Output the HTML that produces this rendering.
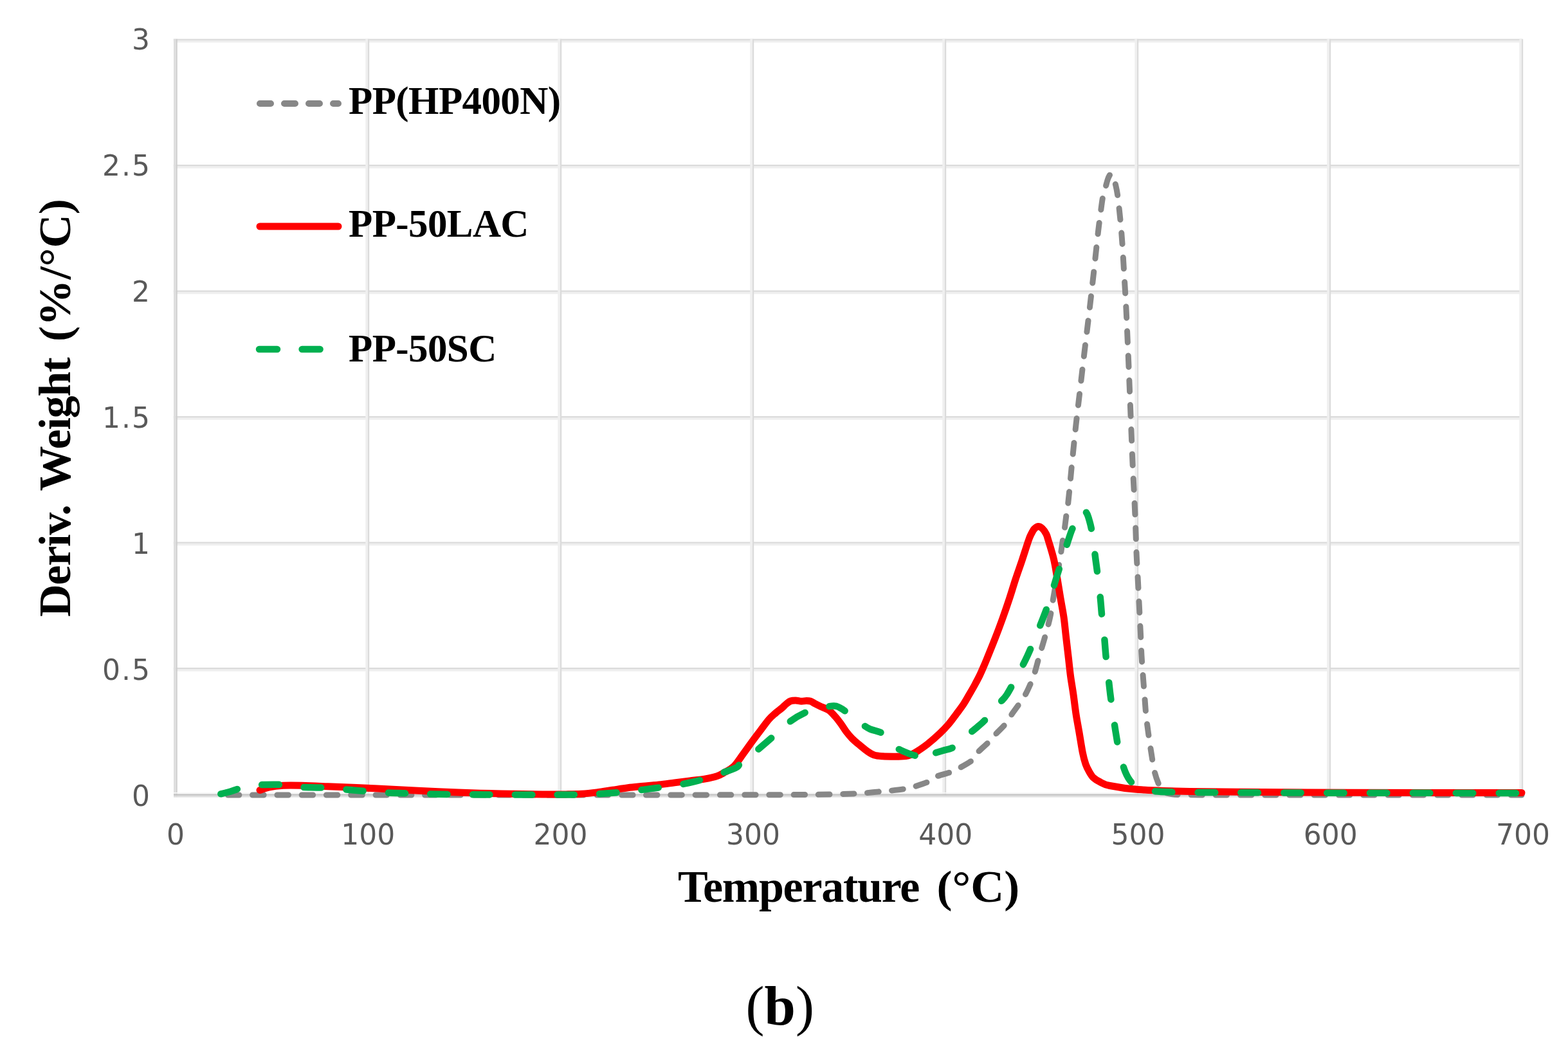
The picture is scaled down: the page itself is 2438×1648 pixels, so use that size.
<!DOCTYPE html>
<html><head><meta charset="utf-8"><title>Deriv. Weight vs Temperature</title>
<style>
html,body{margin:0;padding:0;background:#fff;}
body{width:2438px;height:1648px;overflow:hidden;}
svg{display:block;}
.tick{font-family:"DejaVu Sans","Liberation Sans",sans-serif;font-size:44px;fill:#595959;}
.ttl{font-family:"Liberation Serif",serif;font-weight:bold;fill:#000;}
</style></head><body>
<svg width="2438" height="1648" viewBox="0 0 2438 1648">
<rect width="2438" height="1648" fill="#fff"/>

<g id="grid">
<rect x="269.8" y="1039.7" width="2097.0" height="4" fill="#efefef"/>
<rect x="269.8" y="1038.0" width="2097.0" height="2.2" fill="#dbdbdb"/>
<rect x="269.8" y="844.2" width="2097.0" height="4" fill="#efefef"/>
<rect x="269.8" y="842.5" width="2097.0" height="2.2" fill="#dbdbdb"/>
<rect x="269.8" y="648.7" width="2097.0" height="4" fill="#efefef"/>
<rect x="269.8" y="647.0" width="2097.0" height="2.2" fill="#dbdbdb"/>
<rect x="269.8" y="453.2" width="2097.0" height="4" fill="#efefef"/>
<rect x="269.8" y="451.5" width="2097.0" height="2.2" fill="#dbdbdb"/>
<rect x="269.8" y="257.7" width="2097.0" height="4" fill="#efefef"/>
<rect x="269.8" y="256.0" width="2097.0" height="2.2" fill="#dbdbdb"/>
<rect x="269.8" y="62.2" width="2097.0" height="4" fill="#efefef"/>
<rect x="269.8" y="60.5" width="2097.0" height="2.2" fill="#dbdbdb"/>
<rect x="568.3" y="60.7" width="4" height="1176.0" fill="#efefef"/>
<rect x="572.0" y="60.7" width="2.2" height="1176.0" fill="#dbdbdb"/>
<rect x="867.3" y="60.7" width="4" height="1176.0" fill="#efefef"/>
<rect x="871.0" y="60.7" width="2.2" height="1176.0" fill="#dbdbdb"/>
<rect x="1166.3" y="60.7" width="4" height="1176.0" fill="#efefef"/>
<rect x="1170.0" y="60.7" width="2.2" height="1176.0" fill="#dbdbdb"/>
<rect x="1465.3" y="60.7" width="4" height="1176.0" fill="#efefef"/>
<rect x="1469.0" y="60.7" width="2.2" height="1176.0" fill="#dbdbdb"/>
<rect x="1764.3" y="60.7" width="4" height="1176.0" fill="#efefef"/>
<rect x="1768.0" y="60.7" width="2.2" height="1176.0" fill="#dbdbdb"/>
<rect x="2063.3" y="60.7" width="4" height="1176.0" fill="#efefef"/>
<rect x="2067.0" y="60.7" width="2.2" height="1176.0" fill="#dbdbdb"/>
<rect x="2362.3" y="60.7" width="4" height="1176.0" fill="#efefef"/>
<rect x="2366.0" y="60.7" width="2.2" height="1176.0" fill="#dbdbdb"/>
<rect x="270" y="60.7" width="3.7" height="1179.0" fill="#dedede"/>
<rect x="273.7" y="60.7" width="2" height="1179.0" fill="#cdcdcd"/>
<rect x="270" y="1232" width="2098.8" height="1.6" fill="#f7f7f7"/>
<rect x="270" y="1234.3" width="2098.8" height="1.8" fill="#c4c4c4"/>
<rect x="270" y="1236.1" width="2098.8" height="2" fill="#d2d2d2"/>
<rect x="270" y="1238.1" width="2098.8" height="1.8" fill="#e7e7e7"/>
</g>
<g class="tick">
<text x="233" y="1253.1" text-anchor="end">0</text>
<text x="235" y="1057.1" text-anchor="end" letter-spacing="2">0.5</text>
<text x="233" y="861.1" text-anchor="end">1</text>
<text x="235" y="665.1" text-anchor="end" letter-spacing="2">1.5</text>
<text x="233" y="469.1" text-anchor="end">2</text>
<text x="235" y="273.1" text-anchor="end" letter-spacing="2">2.5</text>
<text x="233" y="77.1" text-anchor="end">3</text>
<text x="273.0" y="1312.5" text-anchor="middle">0</text>
<text x="572.3" y="1312.5" text-anchor="middle">100</text>
<text x="871.6" y="1312.5" text-anchor="middle">200</text>
<text x="1170.9" y="1312.5" text-anchor="middle">300</text>
<text x="1470.2" y="1312.5" text-anchor="middle">400</text>
<text x="1769.5" y="1312.5" text-anchor="middle">500</text>
<text x="2068.8" y="1312.5" text-anchor="middle">600</text>
<text x="2368.1" y="1312.5" text-anchor="middle">700</text>
</g>
<path id="pg" d="M340.0,1236.0 C400.0,1236.0 590.0,1236.0 700.0,1236.0 C810.0,1236.0 908.3,1236.1 1000.0,1236.0 C1091.7,1235.9 1199.0,1235.8 1250.0,1235.5 C1301.0,1235.2 1292.3,1234.8 1306.0,1234.5 C1319.7,1234.2 1325.7,1234.0 1332.0,1233.8 C1338.3,1233.5 1337.7,1233.5 1344.0,1233.0 C1350.3,1232.5 1363.5,1231.1 1370.0,1230.5 C1376.5,1229.9 1376.8,1230.2 1383.0,1229.5 C1389.2,1228.8 1400.8,1227.5 1407.0,1226.5 C1413.2,1225.5 1414.0,1225.3 1420.0,1223.5 C1426.0,1221.7 1437.3,1218.1 1443.0,1215.5 C1448.7,1212.9 1448.2,1210.5 1454.0,1208.0 C1459.8,1205.5 1472.0,1202.7 1478.0,1200.5 C1484.0,1198.3 1484.5,1198.0 1490.0,1195.0 C1495.5,1192.0 1506.0,1186.7 1511.0,1182.5 C1516.0,1178.3 1515.7,1174.8 1520.0,1170.0 C1524.3,1165.2 1532.2,1158.9 1537.0,1154.0 C1541.8,1149.1 1544.7,1145.2 1549.0,1140.5 C1553.3,1135.8 1558.9,1131.1 1563.0,1126.0 C1567.1,1120.9 1569.8,1115.3 1573.5,1110.0 C1577.2,1104.7 1581.5,1099.0 1585.0,1094.0 C1588.5,1089.0 1591.5,1084.7 1594.2,1080.0 C1596.9,1075.3 1598.8,1071.0 1601.0,1066.0 C1603.2,1061.0 1605.1,1057.7 1607.6,1050.0 C1610.1,1042.3 1613.1,1030.0 1616.0,1020.0 C1618.9,1010.0 1622.0,1000.0 1624.8,990.0 C1627.6,980.0 1630.4,970.0 1632.6,960.0 C1634.8,950.0 1636.0,940.0 1637.7,930.0 C1639.4,920.0 1641.3,910.0 1643.0,900.0 C1644.7,890.0 1646.4,880.0 1648.0,870.0 C1649.6,860.0 1651.2,848.0 1652.4,840.0 C1653.6,832.0 1654.3,828.7 1655.3,822.0 C1656.2,815.3 1657.3,805.8 1658.1,800.0 C1658.9,794.2 1659.3,794.5 1660.2,787.0 C1661.1,779.5 1662.4,766.2 1663.5,755.0 C1664.6,743.8 1665.2,735.8 1666.8,720.0 C1668.4,704.2 1670.8,680.0 1673.0,660.0 C1675.2,640.0 1677.7,620.0 1680.0,600.0 C1682.3,580.0 1684.6,560.0 1687.0,540.0 C1689.4,520.0 1691.9,500.0 1694.2,480.0 C1696.5,460.0 1698.8,440.0 1701.0,420.0 C1703.2,400.0 1705.7,375.8 1707.5,360.0 C1709.3,344.2 1710.8,334.2 1712.0,325.0 C1713.2,315.8 1713.9,310.5 1715.0,305.0 C1716.1,299.5 1717.5,296.2 1718.7,292.0 C1719.9,287.8 1721.0,283.2 1722.0,280.0 C1723.0,276.8 1724.0,274.6 1725.0,273.0 C1726.0,271.4 1727.0,270.3 1728.0,270.5 C1729.0,270.7 1730.0,271.6 1731.0,274.0 C1732.0,276.4 1732.8,279.7 1734.0,285.0 C1735.2,290.3 1736.4,293.5 1738.0,306.0 C1739.6,318.5 1742.0,341.0 1743.6,360.0 C1745.2,379.0 1746.3,400.0 1747.5,420.0 C1748.7,440.0 1750.0,460.0 1751.0,480.0 C1752.0,500.0 1752.8,520.0 1753.7,540.0 C1754.6,560.0 1755.4,580.0 1756.2,600.0 C1757.0,620.0 1757.8,640.0 1758.6,660.0 C1759.4,680.0 1760.2,702.5 1761.0,720.0 C1761.8,737.5 1762.5,749.2 1763.3,765.0 C1764.0,780.8 1765.0,801.7 1765.5,815.0 C1766.0,828.3 1766.2,835.8 1766.5,845.0 C1766.8,854.2 1767.0,860.8 1767.5,870.0 C1768.0,879.2 1768.7,890.0 1769.2,900.0 C1769.7,910.0 1770.2,920.0 1770.7,930.0 C1771.2,940.0 1771.7,950.0 1772.2,960.0 C1772.7,970.0 1773.2,980.0 1773.7,990.0 C1774.2,1000.0 1774.4,1010.0 1775.0,1020.0 C1775.6,1030.0 1776.3,1040.0 1777.1,1050.0 C1777.8,1060.0 1778.7,1070.0 1779.5,1080.0 C1780.3,1090.0 1780.8,1100.0 1781.8,1110.0 C1782.8,1120.0 1784.1,1130.0 1785.5,1140.0 C1786.9,1150.0 1788.4,1160.0 1790.0,1170.0 C1791.6,1180.0 1793.2,1191.8 1795.2,1200.0 C1797.2,1208.2 1799.6,1214.4 1801.7,1219.3 C1803.8,1224.2 1805.0,1227.1 1808.0,1229.6 C1811.0,1232.1 1813.0,1233.2 1820.0,1234.2 C1827.0,1235.2 1820.0,1235.5 1850.0,1235.8 C1880.0,1236.1 1914.0,1236.0 2000.0,1236.0 C2086.0,1236.0 2305.0,1236.0 2366.0,1236.0" fill="none" stroke="#878787" stroke-width="9.0" stroke-linecap="round" stroke-linejoin="round" stroke-dasharray="17.5 20.737" stroke-dashoffset="23.7"/>
<path id="pr" d="M404.0,1228.5 C406.3,1227.8 412.0,1225.2 418.0,1224.0 C424.0,1222.8 431.3,1221.8 440.0,1221.3 C448.7,1220.8 458.3,1221.0 470.0,1221.3 C481.7,1221.5 491.4,1222.0 510.0,1222.8 C528.6,1223.5 558.3,1224.7 581.6,1225.8 C604.9,1226.9 628.2,1228.3 650.0,1229.3 C671.8,1230.3 690.7,1231.2 712.4,1232.0 C734.1,1232.8 758.2,1233.5 780.0,1234.0 C801.8,1234.5 826.5,1234.8 843.2,1234.9 C859.9,1235.1 869.9,1235.0 880.0,1234.9 C890.1,1234.8 896.1,1234.8 904.1,1234.3 C912.1,1233.8 920.2,1232.9 928.2,1231.9 C936.2,1230.9 944.3,1229.5 952.3,1228.3 C960.3,1227.1 968.4,1225.7 976.4,1224.7 C984.4,1223.7 992.5,1223.1 1000.5,1222.3 C1008.5,1221.5 1016.6,1220.8 1024.6,1219.9 C1032.6,1219.0 1040.7,1217.9 1048.7,1216.9 C1056.7,1215.9 1064.8,1214.9 1072.8,1213.9 C1080.8,1212.9 1089.9,1212.0 1096.9,1210.8 C1103.9,1209.6 1109.9,1208.3 1114.9,1206.6 C1119.9,1204.9 1122.7,1203.1 1127.0,1200.6 C1131.3,1198.1 1136.2,1196.2 1141.0,1191.5 C1145.8,1186.8 1150.8,1178.6 1155.5,1172.3 C1160.2,1166.0 1164.5,1159.6 1169.0,1153.5 C1173.5,1147.4 1178.1,1141.3 1182.5,1135.5 C1186.9,1129.7 1191.7,1122.9 1195.5,1118.5 C1199.3,1114.1 1202.2,1111.9 1205.5,1109.0 C1208.8,1106.1 1212.7,1103.4 1215.5,1101.0 C1218.3,1098.6 1220.2,1096.3 1222.5,1094.5 C1224.8,1092.7 1226.6,1090.9 1229.0,1090.0 C1231.4,1089.1 1234.2,1089.0 1237.0,1089.0 C1239.8,1089.0 1243.2,1090.2 1246.0,1090.3 C1248.8,1090.4 1251.6,1089.5 1254.0,1089.5 C1256.4,1089.5 1258.4,1089.5 1260.5,1090.2 C1262.6,1090.9 1263.8,1092.2 1266.5,1093.6 C1269.2,1095.0 1273.1,1097.0 1276.8,1098.7 C1280.5,1100.4 1284.7,1101.4 1288.4,1104.0 C1292.1,1106.6 1295.6,1110.6 1298.8,1114.2 C1302.0,1117.8 1305.0,1122.0 1307.8,1125.8 C1310.6,1129.6 1312.8,1133.5 1315.6,1137.2 C1318.4,1140.9 1321.2,1144.3 1324.6,1147.8 C1328.0,1151.3 1332.1,1154.7 1336.2,1158.1 C1340.3,1161.5 1345.2,1165.8 1349.1,1168.4 C1353.0,1171.1 1355.5,1172.8 1359.4,1174.0 C1363.3,1175.2 1366.9,1175.4 1372.3,1175.8 C1377.7,1176.2 1385.7,1176.2 1391.7,1176.2 C1397.7,1176.2 1404.3,1176.0 1408.5,1175.5 C1412.7,1175.0 1414.4,1174.0 1417.0,1173.0 C1419.6,1172.0 1419.8,1172.2 1424.0,1169.5 C1428.2,1166.8 1435.8,1161.9 1442.0,1157.0 C1448.2,1152.1 1456.0,1145.2 1461.5,1140.0 C1467.0,1134.8 1471.0,1130.5 1475.3,1125.5 C1479.6,1120.5 1483.3,1115.1 1487.1,1110.0 C1490.9,1104.9 1494.7,1100.0 1498.0,1095.0 C1501.3,1090.0 1504.0,1085.0 1506.9,1080.0 C1509.8,1075.0 1512.8,1070.0 1515.5,1065.0 C1518.2,1060.0 1520.9,1055.0 1523.3,1050.0 C1525.7,1045.0 1527.8,1040.0 1530.0,1035.0 C1532.2,1030.0 1533.2,1027.5 1536.2,1020.0 C1539.2,1012.5 1544.3,1000.0 1548.2,990.0 C1552.1,980.0 1555.8,970.0 1559.4,960.0 C1563.0,950.0 1566.4,940.0 1569.7,930.0 C1573.0,920.0 1575.9,910.0 1579.2,900.0 C1582.5,890.0 1586.2,880.0 1589.5,870.0 C1592.8,860.0 1597.0,846.5 1599.3,840.0 C1601.5,833.5 1601.5,833.9 1603.0,831.0 C1604.5,828.1 1606.1,824.6 1608.0,822.5 C1609.9,820.4 1612.1,818.7 1614.2,818.5 C1616.3,818.3 1618.4,819.6 1620.5,821.5 C1622.6,823.4 1625.0,826.9 1626.6,830.0 C1628.2,833.1 1628.0,833.3 1630.0,840.0 C1632.0,846.7 1636.3,860.0 1638.6,870.0 C1640.9,880.0 1642.3,890.0 1644.0,900.0 C1645.7,910.0 1647.2,920.0 1648.9,930.0 C1650.6,940.0 1652.7,950.0 1654.1,960.0 C1655.5,970.0 1656.3,980.0 1657.5,990.0 C1658.7,1000.0 1659.8,1010.0 1661.0,1020.0 C1662.2,1030.0 1663.1,1040.0 1664.4,1050.0 C1665.7,1060.0 1667.6,1070.0 1669.0,1080.0 C1670.4,1090.0 1671.5,1100.0 1673.0,1110.0 C1674.5,1120.0 1676.5,1130.0 1678.2,1140.0 C1679.9,1150.0 1681.7,1162.0 1683.3,1170.0 C1684.9,1178.0 1686.3,1183.0 1688.0,1188.0 C1689.7,1193.0 1691.7,1196.5 1693.7,1200.0 C1695.7,1203.5 1697.3,1206.4 1700.0,1209.0 C1702.7,1211.6 1705.8,1213.4 1710.0,1215.5 C1714.2,1217.6 1715.6,1219.5 1725.5,1221.5 C1735.4,1223.5 1748.7,1226.0 1769.4,1227.5 C1790.2,1229.0 1811.6,1229.8 1850.0,1230.5 C1888.4,1231.2 1958.3,1231.5 2000.0,1231.8 C2041.7,1232.1 2039.0,1232.2 2100.0,1232.3 C2161.0,1232.4 2321.7,1232.5 2366.0,1232.5" fill="none" stroke="#ff0000" stroke-width="11" stroke-linecap="round" stroke-linejoin="round"/>
<path d="M338.00,1235.50 C340.83,1234.83 349.33,1233.08 355.00,1231.50 C360.67,1229.92 366.17,1227.67 372.00,1226.00 C377.83,1224.33 383.67,1222.50 390.00,1221.50 C396.33,1220.50 402.17,1220.25 410.00,1220.00 C417.83,1219.75 429.50,1219.58 437.00,1220.00 C444.50,1220.42 449.50,1221.83 455.00,1222.50 C460.50,1223.17 462.17,1223.63 470.00,1224.00 C477.83,1224.37 491.03,1224.13 502.00,1224.70 C512.97,1225.27 525.25,1226.57 535.80,1227.40 C546.35,1228.23 554.40,1228.88 565.30,1229.70 C576.20,1230.52 590.03,1231.70 601.20,1232.30 C612.37,1232.90 615.83,1232.85 632.30,1233.30 C648.77,1233.75 658.72,1234.63 700.00,1235.00 C741.28,1235.37 838.55,1235.82 880.00,1235.50 C921.45,1235.18 926.42,1234.70 948.70,1233.10 C970.98,1231.50 992.22,1228.80 1013.70,1225.90 C1035.18,1223.00 1056.72,1220.72 1077.60,1215.70 C1098.48,1210.68 1126.67,1200.57 1139.00,1195.80 C1151.33,1191.03 1144.98,1192.20 1151.60,1187.10 C1158.22,1182.00 1170.30,1172.18 1178.70,1165.20 C1187.10,1158.22 1193.60,1152.52 1202.00,1145.20 C1210.40,1137.88 1220.50,1127.65 1229.10,1121.30 C1237.70,1114.95 1245.95,1110.48 1253.60,1107.10 C1261.25,1103.72 1267.90,1102.62 1275.00,1101.00 C1282.10,1099.38 1291.17,1097.57 1296.20,1097.40 C1301.23,1097.23 1301.77,1098.32 1305.20,1100.00 C1308.63,1101.68 1310.78,1103.08 1316.80,1107.50 C1322.82,1111.92 1335.27,1122.15 1341.30,1126.50 C1347.33,1130.85 1348.05,1131.42 1353.00,1133.60 C1357.95,1135.78 1365.67,1136.53 1371.00,1139.60 C1376.33,1142.67 1381.33,1148.27 1385.00,1152.00 C1388.67,1155.73 1389.17,1159.08 1393.00,1162.00 C1396.83,1164.92 1402.85,1167.33 1408.00,1169.50 C1413.15,1171.67 1419.07,1174.00 1423.90,1175.00 C1428.73,1176.00 1432.48,1176.07 1437.00,1175.50" fill="none" stroke="#00b050" stroke-width="10.5" stroke-linecap="round" stroke-linejoin="round" stroke-dasharray="26.5 39.173" stroke-dashoffset="60.10"/>
<path d="M1437.00,1175.50 C1441.52,1174.93 1446.17,1173.02 1451.00,1171.60 C1455.83,1170.18 1460.83,1168.60 1466.00,1167.00 C1471.17,1165.40 1477.00,1164.83 1482.00,1162.00 C1487.00,1159.17 1491.50,1153.83 1496.00,1150.00 C1500.50,1146.17 1505.00,1142.33 1509.00,1139.00 C1513.00,1135.67 1516.33,1133.17 1520.00,1130.00 C1523.67,1126.83 1526.83,1124.50 1531.00,1120.00 C1535.17,1115.50 1541.00,1107.67 1545.00,1103.00 C1549.00,1098.33 1551.60,1095.83 1555.00,1092.00 C1558.40,1088.17 1560.90,1087.00 1565.40,1080.00 C1569.90,1073.00 1576.68,1060.00 1582.00,1050.00 C1587.32,1040.00 1592.63,1030.00 1597.30,1020.00 C1601.97,1010.00 1605.85,1000.00 1610.00,990.00 C1614.15,980.00 1618.37,970.00 1622.20,960.00 C1626.03,950.00 1629.70,940.00 1633.00,930.00 C1636.30,920.00 1638.92,910.00 1642.00,900.00 C1645.08,890.00 1648.33,880.00 1651.50,870.00 C1654.67,860.00 1658.35,848.00 1661.00,840.00 C1663.65,832.00 1664.90,827.67 1667.40,822.00 C1669.90,816.33 1673.07,810.50 1676.00,806.00 C1678.93,801.50 1682.67,796.25 1685.00,795.00" fill="none" stroke="#00b050" stroke-width="10.5" stroke-linecap="round" stroke-linejoin="round" stroke-dasharray="26.5 39.714" stroke-dashoffset="47.22"/>
<path d="M1685.00,795.00 C1687.33,793.75 1688.50,796.00 1690.00,798.50 C1691.50,801.00 1692.75,805.58 1694.00,810.00 C1695.25,814.42 1696.42,819.17 1697.50,825.00 C1698.58,830.83 1699.50,837.50 1700.50,845.00 C1701.50,852.50 1702.33,860.83 1703.50,870.00 C1704.67,879.17 1706.27,890.00 1707.50,900.00 C1708.73,910.00 1709.90,920.00 1710.90,930.00 C1711.90,940.00 1712.48,950.00 1713.50,960.00 C1714.52,970.00 1716.00,980.00 1717.00,990.00 C1718.00,1000.00 1718.50,1010.00 1719.50,1020.00 C1720.50,1030.00 1721.85,1040.00 1723.00,1050.00 C1724.15,1060.00 1725.15,1070.00 1726.40,1080.00 C1727.65,1090.00 1729.07,1100.00 1730.50,1110.00 C1731.93,1120.00 1733.33,1130.00 1735.00,1140.00 C1736.67,1150.00 1738.07,1160.00 1740.50,1170.00 C1742.93,1180.00 1746.48,1192.32 1749.60,1200.00 C1752.72,1207.68 1755.47,1212.10 1759.20,1216.10 C1762.93,1220.10 1767.50,1222.03 1772.00,1224.00 C1776.50,1225.97 1778.20,1226.68 1786.20,1227.90 C1794.20,1229.12 1784.37,1230.53 1820.00,1231.30 C1855.63,1232.07 1909.00,1232.22 2000.00,1232.50 C2091.00,1232.78 2305.00,1232.92 2366.00,1233.00" fill="none" stroke="#00b050" stroke-width="10.5" stroke-linecap="round" stroke-linejoin="round" stroke-dasharray="26.5 40.300" stroke-dashoffset="61.85"/>
<path id="pgr" d="M338.0,1235.5 C340.8,1234.8 349.3,1233.1 355.0,1231.5 C360.7,1229.9 366.2,1227.7 372.0,1226.0 C377.8,1224.3 383.7,1222.5 390.0,1221.5 C396.3,1220.5 402.2,1220.2 410.0,1220.0 C417.8,1219.8 429.5,1219.6 437.0,1220.0 C444.5,1220.4 449.5,1221.8 455.0,1222.5 C460.5,1223.2 462.2,1223.6 470.0,1224.0 C477.8,1224.4 491.0,1224.1 502.0,1224.7 C513.0,1225.3 525.2,1226.6 535.8,1227.4 C546.3,1228.2 554.4,1228.9 565.3,1229.7 C576.2,1230.5 590.0,1231.7 601.2,1232.3 C612.4,1232.9 615.8,1232.8 632.3,1233.3 C648.8,1233.8 658.7,1234.6 700.0,1235.0 C741.3,1235.4 838.5,1235.8 880.0,1235.5 C921.5,1235.2 926.4,1234.7 948.7,1233.1 C971.0,1231.5 992.2,1228.8 1013.7,1225.9 C1035.2,1223.0 1056.7,1220.7 1077.6,1215.7 C1098.5,1210.7 1126.7,1200.6 1139.0,1195.8 C1151.3,1191.0 1145.0,1192.2 1151.6,1187.1 C1158.2,1182.0 1170.3,1172.2 1178.7,1165.2 C1187.1,1158.2 1193.6,1152.5 1202.0,1145.2 C1210.4,1137.9 1220.5,1127.7 1229.1,1121.3 C1237.7,1114.9 1245.9,1110.5 1253.6,1107.1 C1261.2,1103.7 1267.9,1102.6 1275.0,1101.0 C1282.1,1099.4 1291.2,1097.6 1296.2,1097.4 C1301.2,1097.2 1301.8,1098.3 1305.2,1100.0 C1308.6,1101.7 1310.8,1103.1 1316.8,1107.5 C1322.8,1111.9 1335.3,1122.2 1341.3,1126.5 C1347.3,1130.8 1348.0,1131.4 1353.0,1133.6 C1358.0,1135.8 1365.7,1136.5 1371.0,1139.6 C1376.3,1142.7 1381.3,1148.3 1385.0,1152.0 C1388.7,1155.7 1389.2,1159.1 1393.0,1162.0 C1396.8,1164.9 1402.8,1167.3 1408.0,1169.5 C1413.2,1171.7 1419.1,1174.0 1423.9,1175.0 C1428.7,1176.0 1432.5,1176.1 1437.0,1175.5 C1441.5,1174.9 1446.2,1173.0 1451.0,1171.6 C1455.8,1170.2 1460.8,1168.6 1466.0,1167.0 C1471.2,1165.4 1477.0,1164.8 1482.0,1162.0 C1487.0,1159.2 1491.5,1153.8 1496.0,1150.0 C1500.5,1146.2 1505.0,1142.3 1509.0,1139.0 C1513.0,1135.7 1516.3,1133.2 1520.0,1130.0 C1523.7,1126.8 1526.8,1124.5 1531.0,1120.0 C1535.2,1115.5 1541.0,1107.7 1545.0,1103.0 C1549.0,1098.3 1551.6,1095.8 1555.0,1092.0 C1558.4,1088.2 1560.9,1087.0 1565.4,1080.0 C1569.9,1073.0 1576.7,1060.0 1582.0,1050.0 C1587.3,1040.0 1592.6,1030.0 1597.3,1020.0 C1602.0,1010.0 1605.8,1000.0 1610.0,990.0 C1614.2,980.0 1618.4,970.0 1622.2,960.0 C1626.0,950.0 1629.7,940.0 1633.0,930.0 C1636.3,920.0 1638.9,910.0 1642.0,900.0 C1645.1,890.0 1648.3,880.0 1651.5,870.0 C1654.7,860.0 1658.3,848.0 1661.0,840.0 C1663.7,832.0 1664.9,827.7 1667.4,822.0 C1669.9,816.3 1673.1,810.5 1676.0,806.0 C1678.9,801.5 1682.7,796.2 1685.0,795.0 C1687.3,793.8 1688.5,796.0 1690.0,798.5 C1691.5,801.0 1692.8,805.6 1694.0,810.0 C1695.2,814.4 1696.4,819.2 1697.5,825.0 C1698.6,830.8 1699.5,837.5 1700.5,845.0 C1701.5,852.5 1702.3,860.8 1703.5,870.0 C1704.7,879.2 1706.3,890.0 1707.5,900.0 C1708.7,910.0 1709.9,920.0 1710.9,930.0 C1711.9,940.0 1712.5,950.0 1713.5,960.0 C1714.5,970.0 1716.0,980.0 1717.0,990.0 C1718.0,1000.0 1718.5,1010.0 1719.5,1020.0 C1720.5,1030.0 1721.8,1040.0 1723.0,1050.0 C1724.2,1060.0 1725.2,1070.0 1726.4,1080.0 C1727.7,1090.0 1729.1,1100.0 1730.5,1110.0 C1731.9,1120.0 1733.3,1130.0 1735.0,1140.0 C1736.7,1150.0 1738.1,1160.0 1740.5,1170.0 C1742.9,1180.0 1746.5,1192.3 1749.6,1200.0 C1752.7,1207.7 1755.5,1212.1 1759.2,1216.1 C1762.9,1220.1 1767.5,1222.0 1772.0,1224.0 C1776.5,1226.0 1778.2,1226.7 1786.2,1227.9 C1794.2,1229.1 1784.4,1230.5 1820.0,1231.3 C1855.6,1232.1 1909.0,1232.2 2000.0,1232.5 C2091.0,1232.8 2305.0,1232.9 2366.0,1233.0" fill="none" stroke="none"/>
<g id="legend">
<line x1="404" y1="161" x2="526" y2="161" stroke="#878787" stroke-width="10" stroke-linecap="round" stroke-dasharray="17 21"/>
<line x1="404" y1="352" x2="526" y2="352" stroke="#ff0000" stroke-width="11" stroke-linecap="round"/>
<line x1="403" y1="543" x2="498" y2="543" stroke="#00b050" stroke-width="10.5" stroke-linecap="round" stroke-dasharray="28 38.6"/>
<text class="ttl" x="542" y="177" font-size="61" letter-spacing="-0.6">PP(HP400N)</text>
<text class="ttl" x="542" y="368" font-size="61" letter-spacing="-0.6">PP-50LAC</text>
<text class="ttl" x="542" y="562" font-size="61" letter-spacing="-0.6">PP-50SC</text>
</g>
<text x="1054" y="1402" font-family="'Liberation Serif',serif" fill="#000" font-size="70" font-weight="bold" letter-spacing="-1.25">Temperature</text>
<text transform="translate(1456.5,1402) scale(1.028,1)" font-family="'Liberation Serif',serif" fill="#000" font-size="70" font-weight="bold">(°C)</text>
<text transform="translate(108.7,959.0) rotate(-90)" font-family="'Liberation Serif',serif" fill="#000" font-size="70" font-weight="bold" letter-spacing="-1.2">Deriv.<tspan dx="22.0">Weight</tspan></text>
<text transform="translate(108.7,531.0) rotate(-90) scale(1.034,1)" font-family="'Liberation Serif',serif" fill="#000" font-size="70" font-weight="bold">(%/°C)</text>
<text x="1159.5" y="1592.6" font-family="'Liberation Serif',serif" fill="#000" font-size="87">(<tspan font-weight="bold">b</tspan>)</text>
</svg>
</body></html>
